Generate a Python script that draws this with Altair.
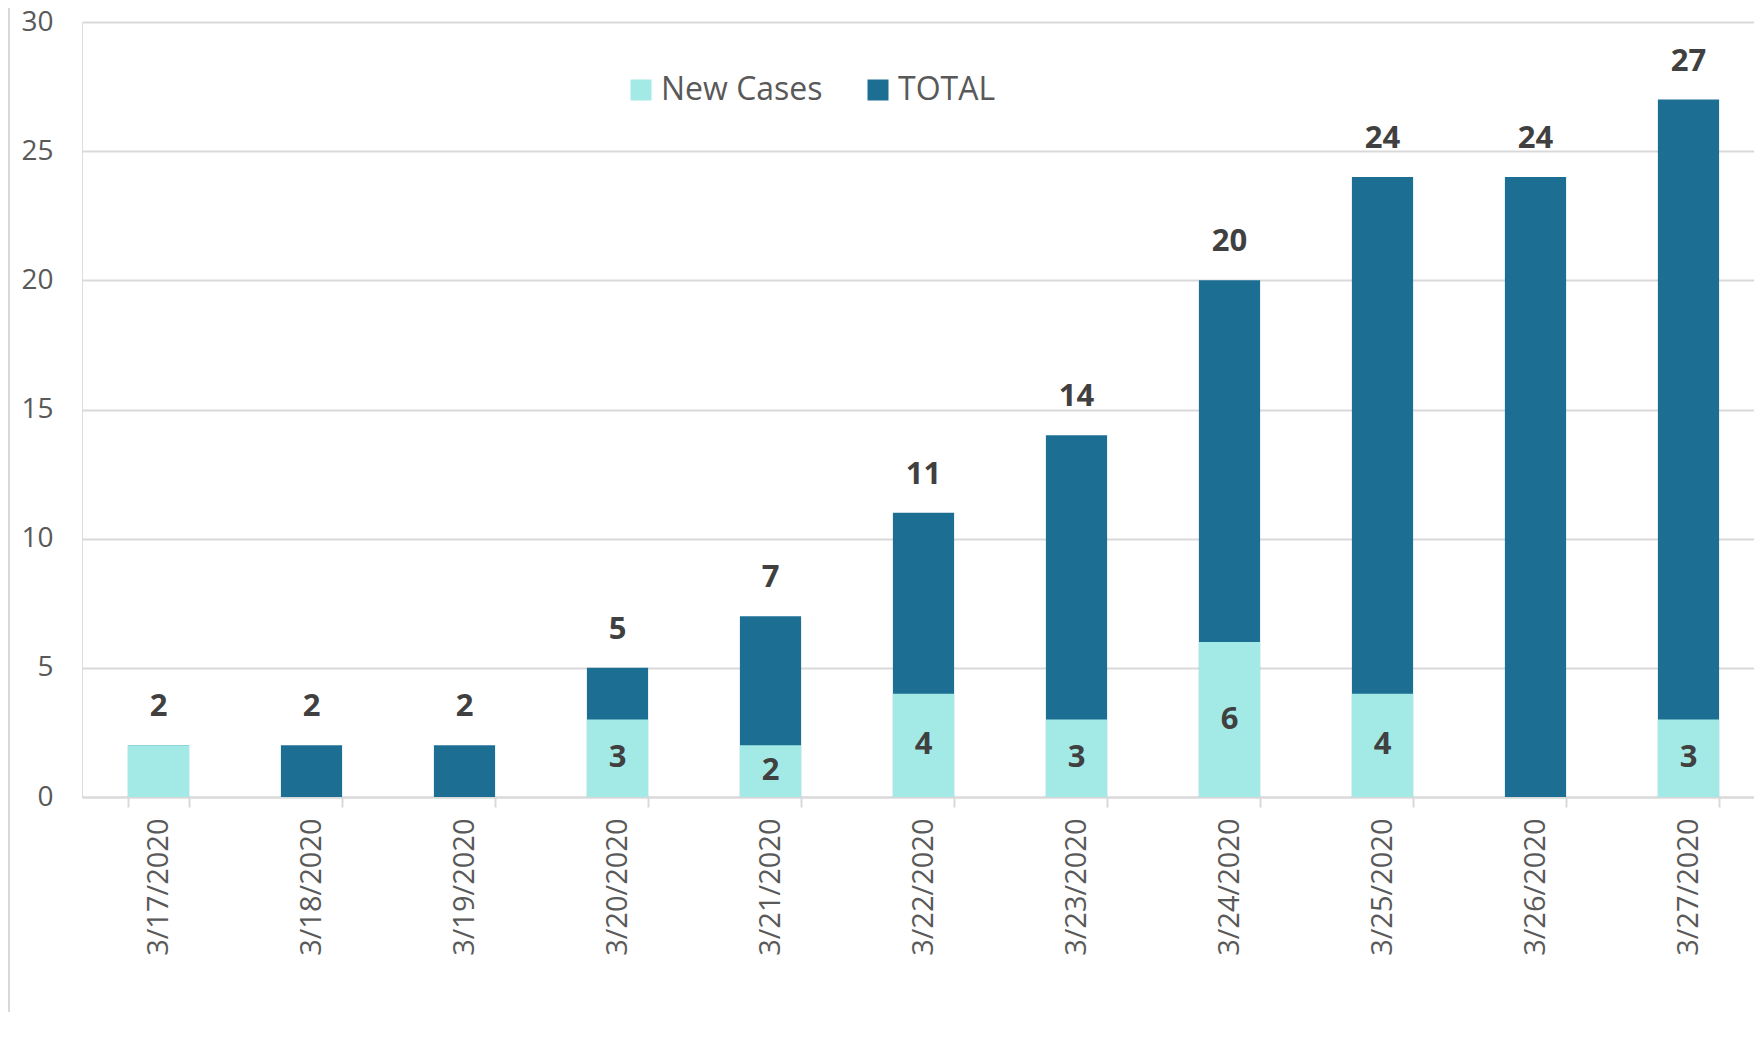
import altair as alt
import pandas as pd

dates = ["3/17/2020", "3/18/2020", "3/19/2020", "3/20/2020", "3/21/2020", "3/22/2020",
         "3/23/2020", "3/24/2020", "3/25/2020", "3/26/2020", "3/27/2020"]
new_cases = [2, 0, 0, 3, 2, 4, 3, 6, 4, 0, 3]
totals = [2, 2, 2, 5, 7, 11, 14, 20, 24, 24, 27]
series_names = ["New Cases", "TOTAL"]
series_colors = ["#A3EAE6", "#1C6F93"]
y_ticks = [0, 5, 10, 15, 20, 25, 30]

df = pd.DataFrame({"date": dates, "New Cases": new_cases, "TOTAL": totals})

FONT = "Open Sans"
W, H = 1672, 775

x_enc = alt.X(
    "date:N",
    sort=dates,
    title=None,
    scale=alt.Scale(paddingInner=0.6, paddingOuter=0.3, range=[0, 1683]),
    axis=alt.Axis(
        labelAngle=270,
        labelFont=FONT,
        labelFontSize=29,
        labelColor="#595959",
        labelPadding=11,
        tickSize=10,
        tickColor="#d9d9d9",
        tickWidth=2,
        tickBand="extent",
        domainColor="#d9d9d9",
        domainWidth=2,
        grid=False,
    ),
)
y_scale = alt.Scale(domain=[0, 30], nice=False)
y_axis = alt.Axis(
    values=y_ticks,
    labelFont=FONT,
    labelFontSize=28,
    labelColor="#595959",
    labelPadding=29,
    ticks=False,
    domain=False,
    grid=True,
    gridColor="#d9d9d9",
    gridWidth=2,
)
color_scale = alt.Scale(domain=series_names, range=series_colors)

base = alt.Chart(df).transform_fold(series_names, as_=["series", "value"])

total_bars = base.transform_filter(alt.datum.series == "TOTAL").mark_bar().encode(
    x=x_enc,
    y=alt.Y("value:Q", scale=y_scale, axis=y_axis, title=None, stack=None),
    color=alt.Color(
        "series:N",
        scale=color_scale,
        title=None,
        legend=alt.Legend(
            orient="none",
            direction="horizontal",
            legendX=543,
            legendY=52,
            symbolType="square",
            symbolSize=441,
            symbolStrokeWidth=0,
            labelFont=FONT,
            labelFontSize=32,
            labelColor="#595959",
            labelOffset=4,
            labelLimit=500,
            columnPadding=39,
            padding=0,
        ),
    ),
)

new_bars = base.transform_filter(alt.datum.series == "New Cases").mark_bar().encode(
    x=alt.X("date:N", sort=dates),
    y=alt.Y("value:Q", stack=None),
    color=alt.Color("series:N", scale=color_scale),
)

total_labels = alt.Chart(df).mark_text(
    font=FONT, fontSize=31, fontWeight="bold", color="#404040",
    baseline="alphabetic", dy=-29,
).encode(
    x=alt.X("date:N", sort=dates),
    y=alt.Y("TOTAL:Q"),
    text=alt.Text("TOTAL:Q"),
)

new_labels = alt.Chart(df).transform_filter(
    "datum['New Cases'] > 0 && datum['New Cases'] < datum.TOTAL"
).transform_calculate(mid="datum['New Cases'] / 2").mark_text(
    font=FONT, fontSize=31, fontWeight="bold", color="#404040",
    baseline="middle",
).encode(
    x=alt.X("date:N", sort=dates),
    y=alt.Y("mid:Q"),
    text=alt.Text("New Cases:Q"),
)

border = alt.Chart(df).mark_rule(color="#d9d9d9", strokeWidth=2).encode(
    x=alt.value(-73), y=alt.value(-14), y2=alt.value(1000)
)

chart = alt.layer(total_bars, new_bars, total_labels, new_labels, border).properties(
    width=W,
    height=H,
    padding={"left": 74, "top": 14, "right": 0, "bottom": 215},
    autosize=alt.AutoSizeParams(type="none"),
).configure_view(stroke=None).configure(background="white")

chart.save("out.html", embed_options={"renderer": "svg", "actions": False})
